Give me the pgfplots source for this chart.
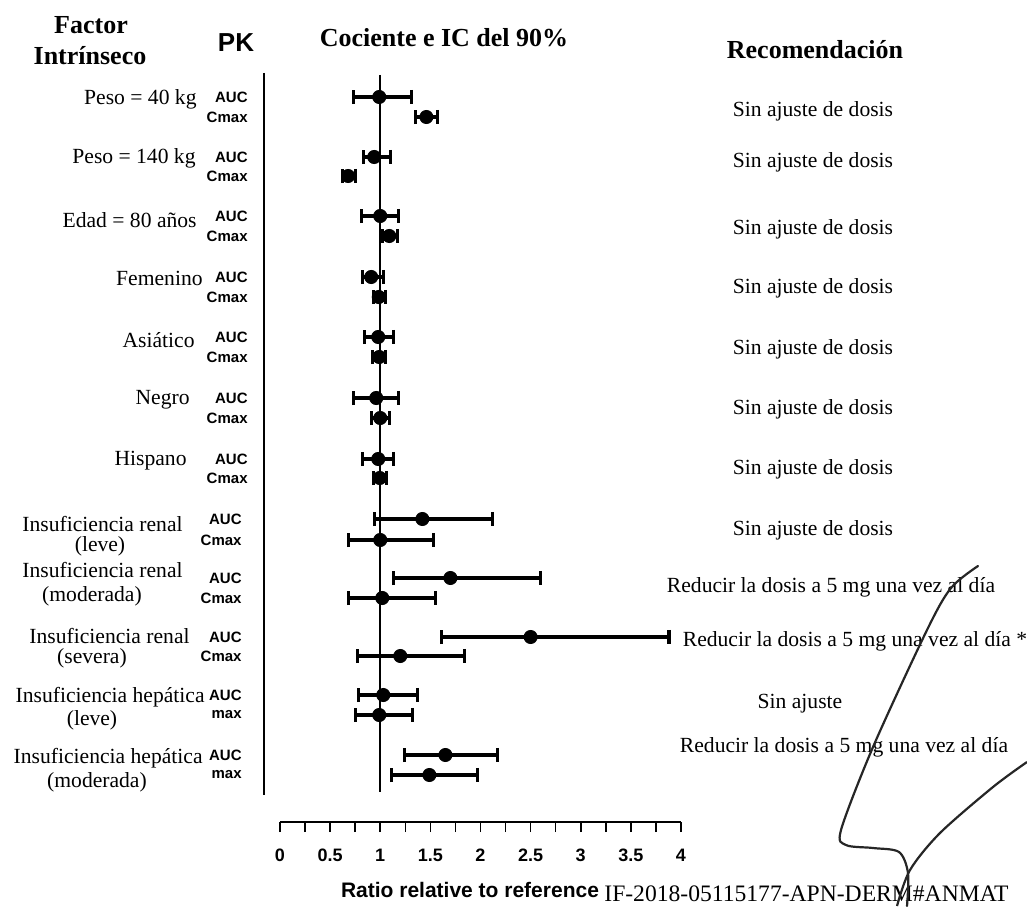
\documentclass[border=0pt]{standalone}
\usepackage{pgfplots}
\pgfplotsset{compat=1.18}
\usepackage{pgfplotstable}
\usepackage{fontspec}
\setmainfont{Liberation Serif}
\setsansfont{Liberation Sans}

% pixel position of the reference -> picture coordinates (1 px = 0.5pt)
\newcommand{\pp}[2]{({(#1-280)*0.5pt},{(822-#2)*0.5pt})}

% y = row position (minus pixel row), pt = ratio, lo/hi = 90% CI
\pgfplotstableread{
y     pt    lo    hi
-97   0.99  0.73  1.31
-117  1.46  1.35  1.57
-157  0.94  0.83  1.10
-176  0.68  0.62  0.75
-216  1.00  0.81  1.18
-236  1.09  1.02  1.17
-277  0.91  0.82  1.03
-297  0.985 0.93  1.05
-337  0.98  0.84  1.13
-357  0.99  0.92  1.05
-398  0.96  0.73  1.18
-418  1.00  0.91  1.09
-459  0.98  0.82  1.13
-478  0.995 0.93  1.06
-519  1.42  0.94  2.12
-540  1.00  0.68  1.53
-578  1.70  1.13  2.60
-598  1.02  0.68  1.55
-637  2.50  1.61  3.88
-656  1.20  0.77  1.84
-695  1.03  0.78  1.37
-715  0.99  0.75  1.32
-755  1.65  1.24  2.17
-775  1.49  1.11  1.97
}\ci

\begin{document}
\begin{tikzpicture}
\useasboundingbox \pp{0}{906} rectangle \pp{1027}{0};
\clip \pp{0}{906} rectangle \pp{1027}{0};
\begin{axis}[
  scale only axis, width=200.5pt, height=373.5pt,
  xmin=0, xmax=4, ymin=-822, ymax=-75,
  axis x line=bottom, axis y line=none,
  x axis line style={-, line width=1pt},
  ytick=\empty,
  xtick={0,0.5,1,1.5,2,2.5,3,3.5,4},
  minor xtick={0.25,0.75,1.25,1.75,2.25,2.75,3.25,3.75},
  tick align=outside,
  major tick length=5pt, minor tick length=5pt,
  every tick/.style={black, line width=0.8pt},
  xticklabel style={font=\sffamily\bfseries\fontsize{9}{10}\selectfont, yshift=-5pt},
  /pgf/number format/assume math mode=true,
  clip=false,
]
\addplot[black, line width=0.8pt] coordinates {(1,-75) (1,-792)};
\addplot[black, only marks, mark=*, mark size=3.3pt,
  error bars/.cd, x dir=both, x explicit,
  error bar style={line width=1.6pt},
  error mark options={rotate=90, line width=1.6pt, mark size=3.6pt}]
  table[x=pt, y=y,
        x error plus expr=\thisrow{hi}-\thisrow{pt},
        x error minus expr=\thisrow{pt}-\thisrow{lo}] {\ci};
\end{axis}

% frame line on the left
\draw[line width=1pt] \pp{264}{73} -- \pp{264}{795};

% headers
\node[font=\bfseries\fontsize{13}{14}\selectfont] at \pp{91}{25} {Factor};
\node[font=\bfseries\fontsize{13}{14}\selectfont] at \pp{90}{56} {Intrínseco};
\node[font=\sffamily\bfseries\fontsize{13}{14}\selectfont] at \pp{236}{43} {PK};
\node[font=\bfseries\fontsize{13}{14}\selectfont] at \pp{444}{38} {Cociente e IC del 90\%};
\node[font=\bfseries\fontsize{13}{14}\selectfont] at \pp{815}{50} {Recomendación};

% factor labels
\begin{scope}[every node/.style={font=\fontsize{10.8}{12}\selectfont, inner sep=0pt}]
\node[anchor=east] at \pp{197}{99} {Peso = 40 kg};
\node[anchor=east] at \pp{196}{158} {Peso = 140 kg};
\node[anchor=east] at \pp{197}{220} {Edad = 80 años};
\node[anchor=east] at \pp{203}{278} {Femenino};
\node[anchor=east] at \pp{195}{340} {Asiático};
\node[anchor=east] at \pp{190}{400} {Negro};
\node[anchor=east] at \pp{187}{461} {Hispano};
\node[anchor=east] at \pp{183}{524} {Insuficiencia renal};
\node at \pp{100}{546} {(leve)};
\node[anchor=east] at \pp{183}{570} {Insuficiencia renal};
\node at \pp{92}{596} {(moderada)};
\node[anchor=east] at \pp{190}{636} {Insuficiencia renal};
\node at \pp{92}{658} {(severa)};
\node[anchor=east] at \pp{205}{697} {Insuficiencia hepática};
\node at \pp{92}{720} {(leve)};
\node[anchor=east] at \pp{203}{758} {Insuficiencia hepática};
\node at \pp{97}{782} {(moderada)};
\end{scope}

% PK labels
\begin{scope}[every node/.style={font=\sffamily\bfseries\fontsize{7.5}{8}\selectfont, inner sep=0pt, anchor=east}]
\foreach \a/\c in {97/117, 157/176, 216/236, 277/297, 337/357, 398/418, 459/478}{
  \node at \pp{248}{\a} {AUC};
  \node at \pp{248}{\c} {Cmax};
}
\foreach \a/\c in {519/540, 578/598, 637/656}{
  \node at \pp{242}{\a} {AUC};
  \node at \pp{242}{\c} {Cmax};
}
\foreach \a/\c in {695/715, 755/775}{
  \node at \pp{242}{\a} {AUC};
  \node at \pp{242}{\c} {max};
}
\end{scope}

% recommendations
\begin{scope}[every node/.style={font=\fontsize{10.8}{12}\selectfont, inner sep=0pt}]
\foreach \y in {111,162,229,288,349,409,469,530}{
  \node at \pp{813}{\y} {Sin ajuste de dosis};
}
\node at \pp{831}{587} {Reducir la dosis a 5 mg una vez al día};
\node at \pp{855}{641} {Reducir la dosis a 5 mg una vez al día *};
\node at \pp{800}{704} {Sin ajuste};
\node at \pp{844}{747} {Reducir la dosis a 5 mg una vez al día};
\end{scope}

% axis title and document id
\node[font=\sffamily\bfseries\fontsize{10.5}{12}\selectfont, inner sep=0pt] at \pp{470}{890} {Ratio relative to reference};
\node[font=\fontsize{11.8}{13}\selectfont, inner sep=0pt, anchor=base west] at \pp{604}{901} {IF-2018-05115177-APN-DERM\#ANMAT};

% signature strokes
\draw[line width=1.1pt, black!85, line cap=round] plot[smooth, tension=0.5] coordinates {
  \pp{978}{566} \pp{951}{588} \pp{927}{630} \pp{873}{747} \pp{841}{830}
  \pp{846}{845} \pp{873}{848} \pp{899}{852} \pp{908}{873} \pp{907}{906}};
\draw[line width=1.1pt, black!85] plot[smooth, tension=0.5] coordinates {
  \pp{1027}{762} \pp{993}{787} \pp{940}{833} \pp{910}{870} \pp{897}{906}};
\end{tikzpicture}
\end{document}
